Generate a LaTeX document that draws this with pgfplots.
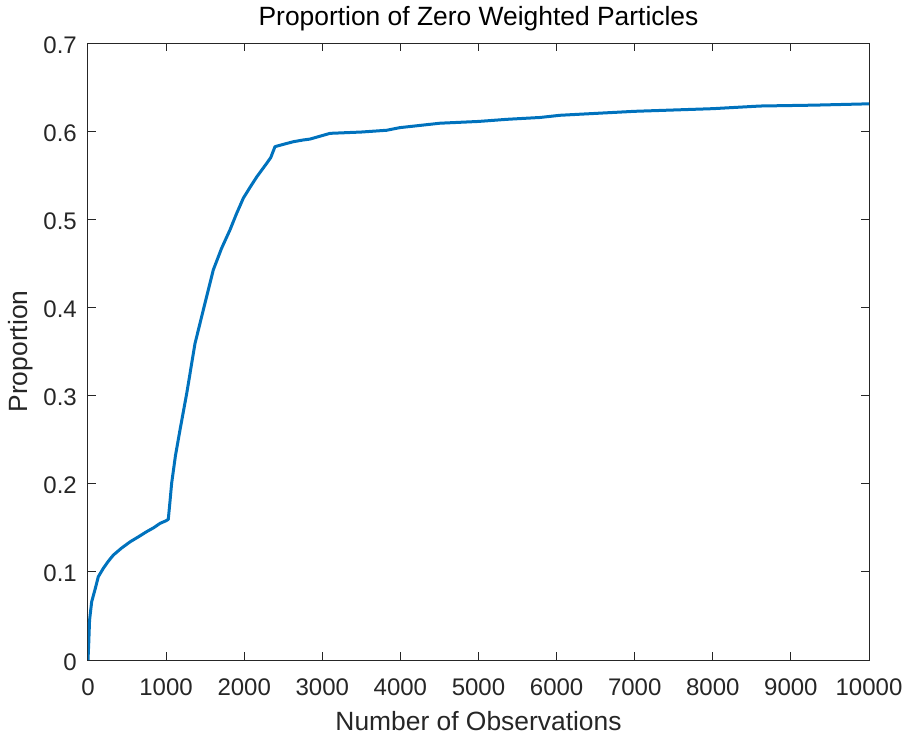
\documentclass[border=0pt]{standalone}
\usepackage{pgfplots}
\pgfplotsset{compat=1.18}
\usepackage{fontspec}
\setmainfont{Liberation Sans}
\definecolor{mblue}{rgb}{0,0.447,0.741}
\definecolor{axgray}{rgb}{0.15,0.15,0.15}
\begin{document}
\begin{tikzpicture}
\useasboundingbox (-88bp,-75bp) rectangle (818bp,660bp);
\begin{axis}[
  at={(0,0)}, anchor=south west,
  scale only axis,
  width=781bp, height=617bp,
  xmin=0, xmax=10000, ymin=0, ymax=0.7,
  xtick={0,1000,...,10000},
  ytick={0,0.1,0.2,0.3,0.4,0.5,0.6,0.7},
  scaled x ticks=false,
  /pgf/number format/assume math mode=true,
  xticklabel style={/pgf/number format/fixed, /pgf/number format/1000 sep={}, anchor=base, inner sep=0pt, yshift=-35bp},
  yticklabel style={/pgf/number format/fixed, /pgf/number format/precision=1, /pgf/number format/zerofill=false, anchor=base east, inner sep=0pt, xshift=-11bp, yshift=-10bp},
  tick align=inside,
  major tick length=8bp,
  axis line style={axgray, line width=1bp},
  tick style={axgray, line width=1bp},
  every tick label/.append style={font=\fontsize{24bp}{28bp}\selectfont, text=axgray},
  title={Proportion of Zero Weighted Particles},
  title style={at={(axis description cs:0.5,1)}, anchor=base, inner sep=0pt, yshift=11.5bp, font=\fontsize{26.4bp}{30bp}\selectfont, text=black},
  xlabel={Number of Observations},
  ylabel={Proportion},
  xlabel style={at={(axis description cs:0.5,0)}, anchor=base, inner sep=0pt, yshift=-70bp, font=\fontsize{26.4bp}{30bp}\selectfont, text=axgray},
  ylabel style={at={(axis description cs:-0.0858,0.5)}, anchor=center, inner sep=0pt, font=\fontsize{26.4bp}{30bp}\selectfont, text=axgray},
]
\addplot[mblue, line width=3bp, line join=round] coordinates {
(0,0) (10,0.02) (20,0.045) (30,0.053) (47,0.066) (90,0.08) (132,0.0945) (196,0.104)
(260,0.112) (324,0.119) (430,0.127) (538,0.134) (650,0.140) (751,0.1456)
(840,0.150) (922,0.155) (1000,0.158) (1028,0.1596) (1050,0.18) (1071,0.2005)
(1120,0.232) (1178,0.261) (1264,0.3025) (1370,0.359) (1476,0.397) (1604,0.4425)
(1710,0.467) (1818,0.488) (1900,0.506) (1989,0.524) (2080,0.537) (2160,0.548)
(2288,0.5635) (2340,0.570) (2394,0.5824) (2500,0.585) (2629,0.588) (2757,0.590)
(2842,0.591) (3099,0.5975) (3500,0.599) (3824,0.601) (3995,0.604) (4507,0.609)
(5000,0.611) (5361,0.6134) (5787,0.6155) (6044,0.618) (7000,0.6225) (8000,0.6255)
(8604,0.6285) (9300,0.6295) (10000,0.631)
};
\end{axis}
\end{tikzpicture}
\end{document}
